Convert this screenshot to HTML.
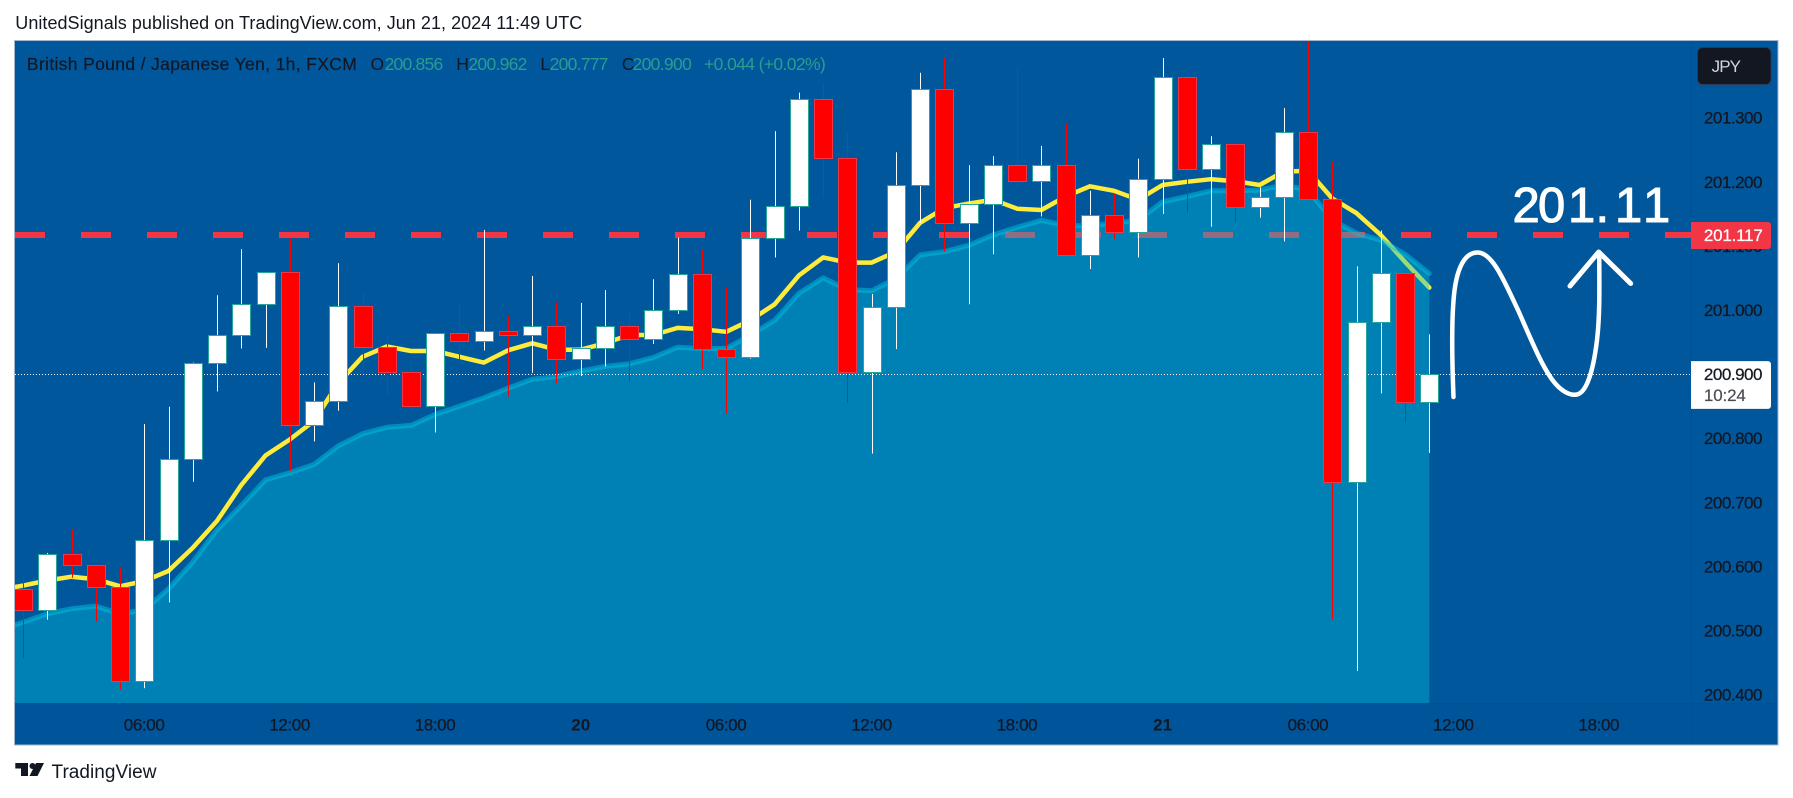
<!DOCTYPE html>
<html lang="en">
<head>
<meta charset="utf-8">
<title>GBPJPY chart</title>
<style>
html,body{margin:0;padding:0;width:1793px;height:798px;overflow:hidden;background:#fff;}
svg{display:block;font-family:"Liberation Sans",sans-serif;}
text{white-space:pre;}
</style>
</head>
<body>
<svg id="root" width="1793" height="798" viewBox="0 0 1793 798" xmlns="http://www.w3.org/2000/svg">
  <defs><clipPath id="plotClip"><rect x="15" y="41" width="1676" height="662"/></clipPath></defs>
  <text x="15.3" y="29" font-size="18" fill="#131722" textLength="567">UnitedSignals published on TradingView.com, Jun 21, 2024 11:49 UTC</text>
  <rect x="14.5" y="40.5" width="1763.5" height="704.5" fill="#01579b" stroke="#a3b8d0" stroke-width="1"/>
  <rect x="15" y="703" width="1762.5" height="41.5" fill="#00559a"/>
  <line x1="1691.5" y1="41" x2="1691.5" y2="744.5" stroke="#01508f" stroke-width="1"/>
  <line x1="1428" y1="703.5" x2="1777" y2="703.5" stroke="#01508f" stroke-width="1"/>
  <g id="plot" clip-path="url(#plotClip)"></g>
  <g id="priceAxis"></g>
  <g id="timeAxis"></g>

  <g font-size="17.5">
    <text x="26.8" y="70" fill="#131722" stroke="#131722" stroke-width="0.2" textLength="330">British Pound / Japanese Yen, 1h, FXCM</text>
    <text x="370.5" y="70" fill="#131722">O</text>
    <text x="384.6" y="70" fill="#2a9d8f" textLength="58.6">200.856</text>
    <text x="456.2" y="70" fill="#131722">H</text>
    <text x="468.4" y="70" fill="#2a9d8f" textLength="59">200.962</text>
    <text x="540.4" y="70" fill="#131722">L</text>
    <text x="549.6" y="70" fill="#2a9d8f" textLength="58.8">200.777</text>
    <text x="621.8" y="70" fill="#131722">C</text>
    <text x="632.5" y="70" fill="#2a9d8f" textLength="59.3">200.900</text>
    <text x="704" y="70" fill="#2a9d8f" textLength="121.8">+0.044 (+0.02%)</text>
  </g>

  <g>
    <rect x="1697.5" y="47.5" width="73.5" height="37" rx="5" fill="#131722" stroke="#2a3a50" stroke-width="1"/>
    <text x="1711.6" y="72" font-size="17" fill="#d1d4dc" textLength="29.4">JPY</text>
  </g>

  <g>
    <path d="M1453.5 397 C1452 360 1451.5 320 1454 295 C1456 275 1462 252 1478 252.5 C1493 253 1505 283 1518 310 C1530 337 1540 362 1551 378 C1560 391 1570 396 1577 394.5 C1588 392 1594 365 1597 340 C1600 315 1599.4 285 1599.2 254" fill="none" stroke="#ffffff" stroke-width="4.5" stroke-linecap="round" stroke-linejoin="round"/>
    <path d="M1570 286 L1598.7 252 L1630.7 283.5" fill="none" stroke="#ffffff" stroke-width="5" stroke-linecap="round" stroke-linejoin="round"/>
    <text x="1512.5 1538 1568 1595.5 1615 1643" y="222" font-size="49" fill="#ffffff" stroke="#ffffff" stroke-width="1">201.11</text>
  </g>

  <g>
    <path d="M15.3 763 H28 V776 H21 V768.5 H15.3 Z M29.5 776 L36 763 H44 L37.5 776 Z" fill="#131722"/>
    <circle cx="32.5" cy="766" r="3" fill="#131722"/>
    <text x="51.5" y="778" font-size="19" fill="#131722" textLength="105">TradingView</text>
  </g>
</svg>

<script>
// Bars are hourly; bar hour 0 = Jun 19 00:00
const firstHour = 1;
const opens  = [200.565,200.532,200.619,200.602,200.568,200.421,200.641,200.767,200.918,200.961,201.009,201.059,200.820,200.858,201.007,200.943,200.903,200.850,200.964,200.952,200.967,200.961,200.975,200.924,200.941,200.975,200.955,201.000,201.056,200.939,200.926,201.113,201.163,201.329,201.237,200.903,201.005,201.195,201.344,201.135,201.165,201.226,201.202,201.226,201.086,201.148,201.121,201.204,201.363,201.220,201.259,201.161,201.177,201.277,201.173,200.731,200.981,201.057,200.856];
const highs  = [200.585,200.621,200.658,200.602,200.599,200.822,200.849,200.918,201.023,201.095,201.059,201.112,200.887,201.073,201.028,200.961,200.919,200.964,201.009,201.125,200.991,201.053,201.012,201.011,201.031,201.001,201.048,201.113,201.095,201.036,201.172,201.279,201.339,201.354,201.278,201.025,201.246,201.370,201.394,201.226,201.240,201.379,201.256,201.291,201.186,201.181,201.236,201.393,201.372,201.271,201.261,201.191,201.315,201.450,201.231,201.068,201.124,201.060,200.962];
const lows   = [200.457,200.517,200.582,200.514,200.408,200.410,200.544,200.732,200.873,200.940,200.941,200.749,200.795,200.843,200.900,200.865,200.839,200.809,200.917,200.937,200.865,200.902,200.886,200.897,200.912,200.888,200.947,200.994,200.908,200.839,200.924,201.082,201.124,201.175,200.855,200.776,200.939,201.136,201.091,201.009,201.087,201.191,201.146,201.086,201.064,201.111,201.082,201.150,201.152,201.130,201.136,201.144,201.107,201.173,200.517,200.437,200.870,200.824,200.777];
const closes = [200.532,200.619,200.602,200.568,200.421,200.641,200.767,200.918,200.961,201.009,201.059,200.820,200.858,201.007,200.943,200.903,200.850,200.964,200.952,200.967,200.961,200.975,200.924,200.941,200.975,200.955,201.000,201.056,200.939,200.926,201.113,201.163,201.329,201.237,200.903,201.005,201.195,201.344,201.135,201.165,201.226,201.202,201.226,201.086,201.148,201.121,201.204,201.363,201.220,201.259,201.161,201.177,201.277,201.173,200.731,200.981,201.057,200.856,200.900];
// Moving averages start one bar earlier (hour 0), off the left edge of the plot
const emaValues = [200.563,200.570,200.578,200.584,200.580,200.569,200.577,200.593,200.629,200.671,200.727,200.773,200.798,200.827,200.886,200.927,200.943,200.936,200.936,200.927,200.918,200.937,200.948,200.938,200.938,200.948,200.961,200.961,200.972,200.970,200.966,200.984,201.009,201.054,201.082,201.074,201.074,201.091,201.136,201.159,201.166,201.172,201.158,201.156,201.177,201.193,201.186,201.172,201.195,201.200,201.204,201.201,201.195,201.216,201.217,201.174,201.151,201.117,201.075,201.035];
const areaValues = [200.501,200.513,200.526,200.534,200.538,200.526,200.532,200.565,200.607,200.657,200.695,200.735,200.746,200.759,200.788,200.807,200.817,200.820,200.837,200.850,200.863,200.878,200.892,200.896,200.905,200.912,200.916,200.926,200.942,200.940,200.940,200.961,200.984,201.026,201.050,201.032,201.030,201.049,201.086,201.091,201.101,201.117,201.129,201.140,201.132,201.131,201.136,201.140,201.169,201.177,201.186,201.186,201.187,201.195,201.187,201.140,201.120,201.109,201.087,201.057];
const priceTicks = ["201.300","201.200","201.100","201.000","200.800","200.700","200.600","200.500","200.400"];
const timeTickHours = [6,12,18,24,30,36,42,48,54,60,66];
const timeTickLabels = ["06:00","12:00","18:00","20","06:00","12:00","18:00","21","06:00","12:00","18:00"];
const resistancePrice = 201.117;
const lastPrice = 200.900;
const countdown = "10:24";

const NS = "http://www.w3.org/2000/svg";
const plotBottom = 703;
function xAxis(hour){ return 144.3 + (hour - 6) * 24.245; }
function yAxis(price){ return 310 + (201 - price) * 641; }
function make(tag, attrs, parent){
  const el = document.createElementNS(NS, tag);
  for (const k in attrs) el.setAttribute(k, attrs[k]);
  parent.appendChild(el);
  return el;
}
const plot = document.getElementById("plot");
const priceAxis = document.getElementById("priceAxis");
const timeAxis = document.getElementById("timeAxis");

// resistance dashed line
const resLine = make("line", {x1:15, x2:1691, y1:yAxis(resistancePrice), y2:yAxis(resistancePrice), stroke:"#f23645", "stroke-width":6, "stroke-dasharray":"30 36"}, plot);



// EMA line
const emaPts = emaValues.map((v,i)=>xAxis(i).toFixed(1)+","+yAxis(v).toFixed(1)).join(" ");
const ema = make("polyline", {points:emaPts, fill:"none", stroke:"#ffeb3b", "stroke-width":4.5, "stroke-linejoin":"round", "stroke-linecap":"round"}, plot);



// Area series
const areaLast = areaValues.length - 1;
const areaPts = areaValues.map((v,i)=>xAxis(i).toFixed(1)+","+yAxis(v).toFixed(1)).join(" L");
const areaFill = make("path", {d:"M"+areaPts+" L"+xAxis(areaLast).toFixed(1)+","+plotBottom+" L"+xAxis(0).toFixed(1)+","+plotBottom+" Z", fill:"rgba(0,192,220,0.4)"}, plot);


const areaLine = make("path", {d:"M"+areaPts, fill:"none", stroke:"rgba(0,195,225,0.5)", "stroke-width":5, "stroke-linejoin":"round", "stroke-linecap":"round"}, plot);



// Last price dotted line
const lastLine = make("line", {x1:15, x2:1691, y1:Math.round(yAxis(lastPrice))+0.5, y2:Math.round(yAxis(lastPrice))+0.5, stroke:"#ffffff", "stroke-width":1, "stroke-dasharray":"1 2"}, plot);



// Candles
opens.forEach((o,i)=>{
  const hour = firstHour + i;
  const c = closes[i], h = highs[i], l = lows[i];
  const up = c >= o;
  const cx = Math.round(xAxis(hour));
  const g = make("g", {}, plot);
  
  
  const wick = make("rect", {x:cx, y:yAxis(h), width:1, height:yAxis(l)-yAxis(h), fill: up ? "#ffffff" : "#ff0000"}, g);
  
  
  const top = Math.round(yAxis(Math.max(o,c)));
  const bot = Math.round(yAxis(Math.min(o,c)));
  const body = make("rect", {x:cx-8.5, y:top+0.5, width:18, height:Math.max(bot-top,1), fill: up ? "#ffffff" : "#ff0000", stroke: up ? "#26a69a" : "#f23645", "stroke-width":1}, g);
  
  
});

// Price ticks
priceTicks.forEach(t=>{
  const txt = make("text", {x:1703.9, y:(yAxis(parseFloat(t))+6).toFixed(1), "font-size":17, fill:"#131722", stroke:"#131722", "stroke-width":0.25, textLength:58.6}, priceAxis);
  txt.textContent = t;
  
  
});

// Resistance price label
const resY = yAxis(resistancePrice);
const resBox = make("path", {d:`M1691 ${resY-13} H1768 a3 3 0 0 1 3 3 V${resY+11} a3 3 0 0 1 -3 3 H1691 Z`, fill:"#f23645"}, priceAxis);


const resTxt = make("text", {x:1703.9, y:(resY+6).toFixed(1), "font-size":17, fill:"#ffffff", stroke:"#ffffff", "stroke-width":0.25, textLength:59}, priceAxis);
resTxt.textContent = resistancePrice.toFixed(3);



// Last price label
const lastY = yAxis(lastPrice);
const lastBox = make("path", {d:`M1691 ${lastY-13} H1768 a3 3 0 0 1 3 3 V${lastY+31.8} a3 3 0 0 1 -3 3 H1691 Z`, fill:"#ffffff"}, priceAxis);


const lastTxt = make("text", {x:1703.9, y:(lastY+6).toFixed(1), "font-size":17, fill:"#131722", stroke:"#131722", "stroke-width":0.25, textLength:58.6}, priceAxis);
lastTxt.textContent = lastPrice.toFixed(3);


const cdTxt = make("text", {x:1703.9, y:(lastY+27).toFixed(1), "font-size":17, fill:"#4a4d55", stroke:"#4a4d55", "stroke-width":0.2, textLength:42}, priceAxis);
cdTxt.textContent = countdown;



// Time ticks
timeTickHours.forEach((hr,i)=>{
  const label = timeTickLabels[i];
  const isDay = label.length === 2;
  const txt = make("text", {x:xAxis(hr).toFixed(1), y:730.7, "font-size":17, fill:"#131722", "text-anchor":"middle", "font-weight": isDay ? "700" : "400", stroke:"#131722", "stroke-width": isDay ? 0 : 0.25}, timeAxis);
  if (!isDay) txt.setAttribute("textLength", "41");
  txt.textContent = label;
  
  
});
</script>
</body>
</html>
